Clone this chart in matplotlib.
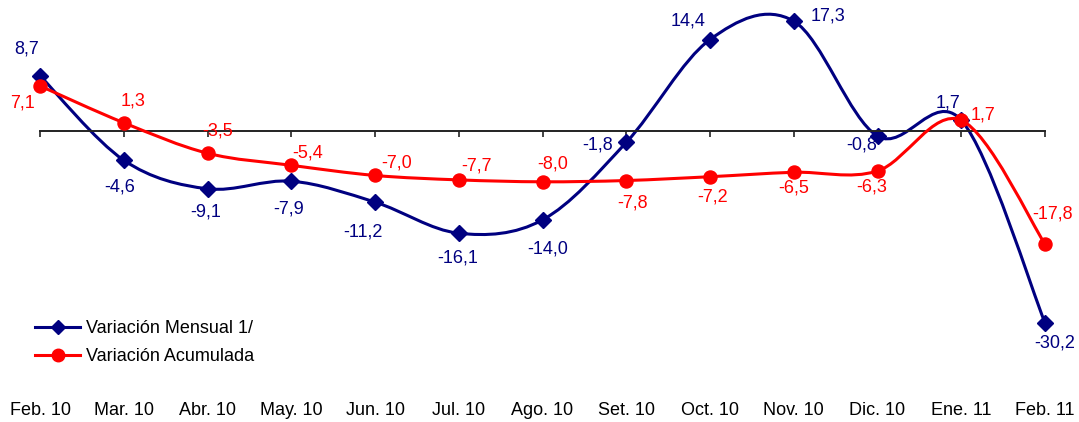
import matplotlib
matplotlib.use("Agg")
import matplotlib.pyplot as plt
import numpy as np
from matplotlib.path import Path
from matplotlib.patches import PathPatch
from matplotlib.lines import Line2D
import matplotlib.transforms as mtransforms

plt.rcParams['font.family'] = ['Liberation Sans', 'DejaVu Sans']

months = ["Feb. 10", "Mar. 10", "Abr. 10", "May. 10", "Jun. 10", "Jul. 10", "Ago. 10",
          "Set. 10", "Oct. 10", "Nov. 10", "Dic. 10", "Ene. 11", "Feb. 11"]
mensual = [8.7, -4.6, -9.1, -7.9, -11.2, -16.1, -14.0, -1.8, 14.4, 17.3, -0.8, 1.7, -30.2]
acumulada = [7.1, 1.3, -3.5, -5.4, -7.0, -7.7, -8.0, -7.8, -7.2, -6.5, -6.3, 1.7, -17.8]

# label offsets in pixels (dx, dy) with y up
off_mensual = [(-13, 27), (-4, -27), (-2, -23), (-3, -28), (-12, -30), (-1, -25), (5, -29),
               (-29, -3), (-22, 19), (34, 5), (-16, -9), (-13, 17), (10, -20)]
off_acum = [(-18, -17), (9, 22), (10, 22), (16, 12), (22, 12), (18, 14), (10, 18),
            (6, -22), (3, -20), (0, -16), (-6, -16), (22, 5), (8, 30)]

NAVY = "#000080"
RED = "#FF0000"
FS = 13


def smooth_path(y):
    # excel-like smoothed line: bezier with catmull-rom control points
    x = np.arange(len(y), dtype=float)
    pts = np.column_stack([x, np.array(y, dtype=float)])
    n = len(pts)
    verts = [pts[0]]
    codes = [Path.MOVETO]
    for i in range(n - 1):
        p0 = pts[i - 1] if i > 0 else pts[i]
        p1 = pts[i]
        p2 = pts[i + 1]
        p3 = pts[i + 2] if i + 2 < n else pts[i + 1]
        c1 = p1 + (p2 - p0) / 6.0
        c2 = p2 - (p3 - p1) / 6.0
        verts += [c1, c2, p2]
        codes += [Path.CURVE4] * 3
    return Path(verts, codes)


def fmt(v):
    return f"{v:.1f}".replace(".", ",")


fig = plt.figure(figsize=(10.79, 4.22), dpi=100)
ax = fig.add_axes([0, 0, 1, 1])
ax.set_xlim(-40 / 83.75, 12 + 34 / 83.75)
ax.set_ylim(-291 / 6.35, 131 / 6.35)

for s in ["top", "left", "right"]:
    ax.spines[s].set_visible(False)
ax.spines["bottom"].set_position(("data", 0))
ax.spines["bottom"].set_bounds(0, 12)
ax.spines["bottom"].set_linewidth(1.4)
ax.spines["bottom"].set_color("#222222")
ax.set_xticks(range(len(months)))
ax.set_xticklabels([])
ax.tick_params(axis="x", direction="out", length=4, width=1.2, color="#222222")
ax.set_yticks([])

x = np.arange(len(months))
for vals, color, marker, ms, offs, z in [
        (mensual, NAVY, "D", 7.8, off_mensual, 2),
        (acumulada, RED, "o", 9.4, off_acum, 3)]:
    ax.add_patch(PathPatch(smooth_path(vals), fill=False, edgecolor=color, lw=2.2, zorder=z))
    ax.plot(x, vals, linestyle="none", marker=marker, markersize=ms, color=color, zorder=z)
    for i, v in enumerate(vals):
        ax.annotate(fmt(v), (i, v), xytext=offs[i], textcoords="offset pixels",
                    ha="center", va="center", fontsize=FS, color=color, zorder=5)

trans = mtransforms.blended_transform_factory(ax.transData, ax.transAxes)
for i, m in enumerate(months):
    ax.text(i, 1 - 415 / 422, m, transform=trans, ha="center", va="baseline",
            fontsize=FS, color="black")

handles = [Line2D([], [], color=NAVY, lw=2.2, marker="D", markersize=7.5),
           Line2D([], [], color=RED, lw=2.2, marker="o", markersize=9)]
ax.legend(handles, ["Variación Mensual 1/", "Variación Acumulada"], loc="center left",
          bbox_to_anchor=(35 / 1079, 1 - 342.5 / 422), frameon=False, fontsize=FS,
          handlelength=2.5, handletextpad=0.3, labelspacing=0.6, borderpad=0,
          borderaxespad=0, numpoints=1)

fig.savefig("out.png", dpi=100)
